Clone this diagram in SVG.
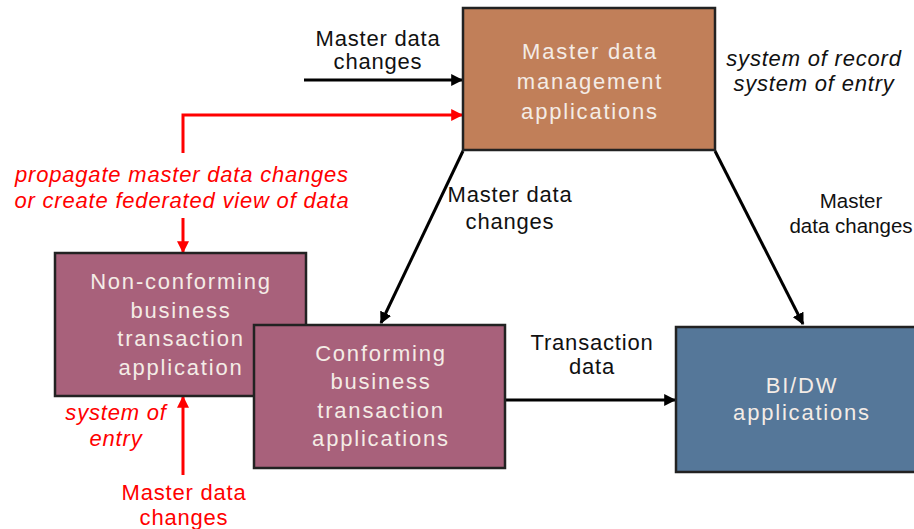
<svg xmlns="http://www.w3.org/2000/svg" width="914" height="529" viewBox="0 0 914 529">
  <style>
    text { font-family: "Liberation Sans", Arial, sans-serif; font-size: 22px; text-anchor: middle; letter-spacing: 0.8px; }
    .box { stroke: #222; stroke-width: 2.5; }
    .in { fill: #f4ece6; letter-spacing: 1.8px; }
    .lbl { fill: #111; }
    .sm { font-size: 20.5px; letter-spacing: 0; }
    .red { fill: #ff0000; font-style: italic; }
    .redn { fill: #ff0000; }
    .it { fill: #111; font-style: italic; }
    .blk { stroke: #000; stroke-width: 3; fill: none; }
    .rl { stroke: #ff0000; stroke-width: 3; fill: none; }
  </style>
  <defs>
    <marker id="ab" viewBox="0 0 10 10" refX="9" refY="5" markerWidth="4" markerHeight="4" orient="auto" markerUnits="strokeWidth">
      <path d="M0,0 L10,5 L0,10 z" fill="#000"/>
    </marker>
    <marker id="ar" viewBox="0 0 10 10" refX="9" refY="5" markerWidth="4" markerHeight="4" orient="auto" markerUnits="strokeWidth">
      <path d="M0,0 L10,5 L0,10 z" fill="#ff0000"/>
    </marker>
  </defs>
  <rect width="914" height="529" fill="#fff"/>

  <g id="connectors">
    <line class="blk" x1="304" y1="80" x2="462" y2="80" marker-end="url(#ab)"/>
    <polyline class="rl" points="183,153 183,115 462,115" marker-end="url(#ar)"/>
    <line class="rl" x1="183" y1="218" x2="183" y2="252" marker-end="url(#ar)"/>
    <line class="rl" x1="183" y1="475" x2="183" y2="397" marker-end="url(#ar)"/>
    <line class="blk" x1="463" y1="151" x2="381" y2="323" marker-end="url(#ab)"/>
    <line class="blk" x1="715" y1="151" x2="803" y2="324" marker-end="url(#ab)"/>
    <line class="blk" x1="506" y1="400" x2="675" y2="400" marker-end="url(#ab)"/>
  </g>

  <g id="mdm">
    <rect class="box" x="463" y="8" width="252" height="142" fill="#c17f59"/>
    <text class="in" x="590" y="59">Master data</text>
    <text class="in" x="590" y="89">management</text>
    <text class="in" x="590" y="119">applications</text>
  </g>

  <g id="nonconforming">
    <rect class="box" x="55" y="253" width="251" height="143" fill="#a8617b"/>
    <text class="in" x="181" y="289">Non-conforming</text>
    <text class="in" x="181" y="318">business</text>
    <text class="in" x="181" y="346">transaction</text>
    <text class="in" x="181" y="375">application</text>
  </g>

  <g id="conforming">
    <rect class="box" x="254" y="325" width="251" height="143" fill="#a8617b"/>
    <text class="in" x="381" y="361">Conforming</text>
    <text class="in" x="381" y="389">business</text>
    <text class="in" x="381" y="418">transaction</text>
    <text class="in" x="381" y="446">applications</text>
  </g>

  <g id="bidw">
    <rect class="box" x="676" y="327" width="250" height="145" fill="#557799"/>
    <text class="in" x="802" y="393">BI/DW</text>
    <text class="in" x="802" y="420">applications</text>
  </g>

  <g id="labels">
    <text class="lbl" x="378" y="46">Master data</text>
    <text class="lbl" x="378" y="69">changes</text>
    <text class="it" x="814" y="66">system of record</text>
    <text class="it" x="814" y="91">system of entry</text>
    <text class="red" x="182" y="182">propagate master data changes</text>
    <text class="red" x="182" y="208">or create federated view of data</text>
    <text class="lbl" x="510" y="202">Master data</text>
    <text class="lbl" x="510" y="229">changes</text>
    <text class="lbl sm" x="851" y="208">Master</text>
    <text class="lbl sm" x="851" y="233">data changes</text>
    <text class="lbl" x="592" y="350">Transaction</text>
    <text class="lbl" x="592" y="374">data</text>
    <text class="red" x="116" y="420">system of</text>
    <text class="red" x="116" y="446">entry</text>
    <text class="redn" x="184" y="500">Master data</text>
    <text class="redn" x="184" y="525">changes</text>
  </g>
</svg>
